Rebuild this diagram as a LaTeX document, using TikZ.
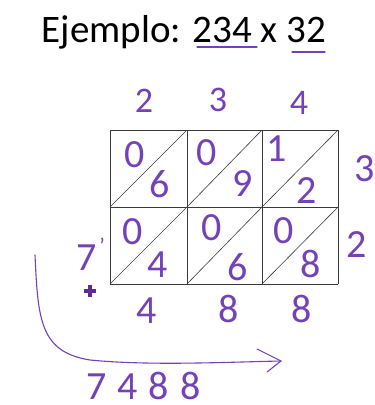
\documentclass[tikz,border=0pt]{standalone}
\usepackage{fontspec}
\setmainfont{Carlito}
\definecolor{pen}{HTML}{7442B8}
\definecolor{dot}{HTML}{5E2A9A}
\definecolor{gridc}{HTML}{3A3A3A}
\begin{document}
\begin{tikzpicture}[x=1pt,y=-1pt,
  hand/.style={text=pen,font=\fontsize{36}{36}\selectfont,inner sep=0pt},
  handbig/.style={text=pen,font=\fontsize{40}{40}\selectfont,inner sep=0pt},
  gridline/.style={draw=gridc,line width=0.9pt},
  diag/.style={draw=gridc,line width=0.6pt},
  penline/.style={draw=pen,line width=1.1pt,line cap=round,line join=round}]
\useasboundingbox (0,0) rectangle (375,405);
\fill[white] (0,0) rectangle (375,405);
% title
\node[inner sep=0pt,font=\fontsize{39}{39}\selectfont] (title) at (184,32) {Ejemplo: 234 x 32};
\draw[penline] (197,47) -- (257,47);
\draw[penline] (292,52) -- (325,52);
% top labels
\node[hand] (t2) at (144,101) {2};
\node[hand] (t3) at (218,100) {3};
\node[hand] (t4) at (299,103) {4};
% grid
\foreach \x in {110,187,262,338} \draw[gridline] (\x,130) -- (\x,284);
\foreach \y in {130,207,284} \draw[gridline] (110,\y) -- (338,\y);
\foreach \x/\nx in {110/187,187/262,262/338} {
  \draw[diag] (\x,207) -- (\nx,130);
  \draw[diag] (\x,284) -- (\nx,207);
}
% cell digits
\node[handbig] (a1) at (135,155) {0};
\node[handbig] (a2) at (160,184) {6};
\node[handbig] (b1) at (207,153) {0};
\node[handbig] (b2) at (243,184) {9};
\node[handbig] (c1) at (277,149) {1};
\node[handbig] (c2) at (307,191) {2};
\node[handbig] (d1) at (133,232) {0};
\node[handbig] (d2) at (158,265) {4};
\node[handbig] (e1) at (212,228) {0};
\node[handbig] (e2) at (238,267) {6};
\node[handbig] (f1) at (284,231) {0};
\node[handbig] (f2) at (311,264) {8};
% right labels
\node[handbig] (r3) at (365,169) {3};
\node[handbig] (r2) at (357,245) {2};
% left 7
\node[handbig] (l7) at (87,258) {7};
\node[text=pen,inner sep=0pt,font=\fontsize{22}{22}\selectfont] (tick) at (102,246) {'};
\coordinate (plus) at (90,291);
\draw[dot,line width=4.5pt] ([xshift=-6pt]plus) -- ([xshift=6pt]plus);
\draw[dot,line width=4.5pt] ([yshift=-6pt]plus) -- ([yshift=6pt]plus);
% bottom sums
\node[handbig] (s1) at (147,311) {4};
\node[handbig] (s2) at (229,309) {8};
\node[handbig] (s3) at (302,309) {8};
% arrow
\coordinate (as) at (35,255);
\coordinate (ae) at (281,361);
\draw[penline] (as) .. controls (38,320) and (40,352) .. (90,360) .. controls (150,366) and (230,362) .. (ae);
\draw[penline] (257,349) -- (ae) -- (267,372);
% result
\node[handbig,anchor=base west] (res) at (86,399) {7\hspace{11pt}4\hspace{11pt}8\hspace{11pt}8};
\end{tikzpicture}
\end{document}
